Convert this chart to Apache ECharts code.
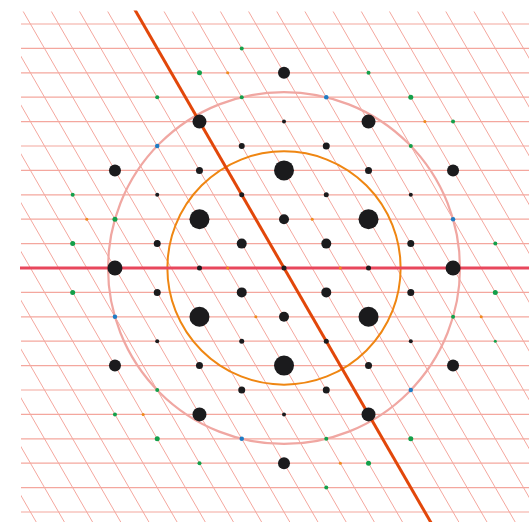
<!DOCTYPE html>
<html>
<head>
<meta charset="utf-8">
<style>
  html, body { margin: 0; padding: 0; background: #ffffff; }
  #chart { width: 529px; height: 522px; }
</style>
<script src="https://cdn.jsdelivr.net/npm/echarts@6/dist/echarts.min.js"></script>
</head>
<body>
<div id="chart"></div>
<script>
// Hexagonal reciprocal lattice: spot positions are given as lattice steps (i, j),
// where one i step is sqrt(3)/2 and one j step is 1/2 of the nearest-neighbour distance.
// Each entry: [i, j, spot diameter in px]

const blackSpots = [
  [0, 8, 12],
  [-2, 6, 14], [0, 6, 4], [2, 6, 14],
  [-1, 5, 6], [1, 5, 7],
  [-4, 4, 12], [-2, 4, 7], [0, 4, 20], [2, 4, 7], [4, 4, 12],
  [-3, 3, 4], [-1, 3, 5], [1, 3, 5], [3, 3, 4],
  [-2, 2, 20], [0, 2, 10], [2, 2, 20],
  [-3, 1, 7], [-1, 1, 10], [1, 1, 10], [3, 1, 7],
  [-4, 0, 15], [-2, 0, 5], [0, 0, 5], [2, 0, 5], [4, 0, 15],
  [-3, -1, 7], [-1, -1, 10], [1, -1, 10], [3, -1, 7],
  [-2, -2, 20], [0, -2, 10], [2, -2, 20],
  [-3, -3, 4], [-1, -3, 5], [1, -3, 5], [3, -3, 4],
  [-4, -4, 12], [-2, -4, 7], [0, -4, 20], [2, -4, 7], [4, -4, 12],
  [-1, -5, 7], [1, -5, 7],
  [-2, -6, 14], [0, -6, 4], [2, -6, 14],
  [0, -8, 12]
];

const greenSpots = [
  [-1, 9, 4], [-2, 8, 5], [2, 8, 4],
  [-3, 7, 4], [-1, 7, 4], [3, 7, 5],
  [4, 6, 4], [3, 5, 4],
  [-5, 3, 4], [-4, 2, 5], [-5, 1, 5], [5, 1, 4],
  [-5, -1, 5], [5, -1, 5], [4, -2, 4], [5, -3, 3],
  [-3, -5, 4], [-4, -6, 4],
  [-3, -7, 5], [1, -7, 4], [3, -7, 5],
  [-2, -8, 4], [2, -8, 5], [1, -9, 4]
];

const blueSpots = [
  [-3, 5, 4.5], [1, 7, 4.5], [4, 2, 4.5],
  [-4, -2, 4.5], [-1, -7, 4.5], [3, -5, 4.5]
];

const orangeSpots = [
  [-1.333, 8, 3], [3.333, 6, 3], [-4.667, 2, 3], [0.667, 2, 3],
  [-1.333, 0, 3], [1.333, 0, 3], [-0.667, -2, 3], [4.667, -2, 3],
  [-3.333, -6, 3], [1.333, -8, 3]
];

// Families of lattice planes, as multiples of half the plane spacing
const horizontalPlanes = [-10, -9, -8, -7, -6, -5, -4, -3, -2, -1, 0, 1, 2, 3, 4, 5, 6, 7, 8, 9, 10];
const obliquePlanes = [-14, -13, -12, -11, -10, -9, -8, -7, -6, -5, -4, -3, -2, -1, 0,
                       1, 2, 3, 4, 5, 6, 7, 8, 9, 10, 11, 12, 13, 14];

// Circle radii in nearest-neighbour units
const innerCircleRadius = 2.39;
const outerCircleRadius = 3.606;

const STEP_X = Math.sqrt(3) / 2;
const STEP_Y = 0.5;
const toXY = (s) => [s[0] * STEP_X, s[1] * STEP_Y, s[2]];

// Normal of the oblique plane family (30 degrees) and its in-plane direction
const N = [Math.cos(Math.PI / 6), Math.sin(Math.PI / 6)];
const D = [N[1], -N[0]];
const FAR = 30;

const GRID_COLOR = '#f4a79e';

const series = [];

horizontalPlanes.forEach((k) => {
  const y = k * 0.5;
  series.push({
    type: 'line', silent: true, symbol: 'none', clip: true,
    data: [[-FAR, y], [FAR, y]],
    lineStyle: { color: GRID_COLOR, width: 1.2 },
    z: 1
  });
});

obliquePlanes.forEach((k) => {
  const c = k * 0.5;
  const p = [c * N[0], c * N[1]];
  series.push({
    type: 'line', silent: true, symbol: 'none', clip: true,
    data: [[p[0] - FAR * D[0], p[1] - FAR * D[1]], [p[0] + FAR * D[0], p[1] + FAR * D[1]]],
    lineStyle: { color: GRID_COLOR, width: 1 },
    z: 1
  });
});

function ring(radius, color, width) {
  return {
    type: 'custom', silent: true, clip: true,
    data: [[0, 0]],
    renderItem: function (params, api) {
      const c = api.coord([0, 0]);
      const r = api.size([radius, 0])[0];
      return {
        type: 'circle',
        shape: { cx: c[0], cy: c[1], r: r },
        style: { fill: 'none', stroke: color, lineWidth: width }
      };
    },
    z: 2
  };
}
series.push(ring(outerCircleRadius, '#f0a7a2', 2.2));
series.push(ring(innerCircleRadius, '#ef8612', 2));

// Bold planes through the origin
series.push({
  type: 'line', silent: true, symbol: 'none', clip: true,
  data: [[-FAR, 0], [FAR, 0]],
  lineStyle: { color: '#e8475c', width: 3 },
  z: 3
});
series.push({
  type: 'line', silent: true, symbol: 'none', clip: true,
  data: [[-FAR * D[0], -FAR * D[1]], [FAR * D[0], FAR * D[1]]],
  lineStyle: { color: '#e2470a', width: 3 },
  z: 3
});

function spots(list, color) {
  return {
    type: 'scatter', silent: true,
    data: list.map(toXY),
    symbol: 'circle',
    symbolSize: (v) => v[2],
    itemStyle: { color: color, opacity: 1 },
    z: 5
  };
}
series.push(spots(orangeSpots, '#f08a1a'));
series.push(spots(greenSpots, '#13a04a'));
series.push(spots(blueSpots, '#1f7cc4'));
series.push(spots(blackSpots, '#1b1b1d'));

// 48.8 px per nearest-neighbour distance; origin at (284, 268)
const chart = echarts.init(document.getElementById('chart'), null, { renderer: 'canvas' });
chart.setOption({
  animation: false,
  backgroundColor: '#ffffff',
  grid: { left: 22, top: 12, right: 0, bottom: 0 },
  xAxis: { type: 'value', min: -5.369, max: 5.0205, show: false, splitLine: { show: false } },
  yAxis: { type: 'value', min: -5.205, max: 5.246, show: false, splitLine: { show: false } },
  series: series
});
</script>
</body>
</html>
